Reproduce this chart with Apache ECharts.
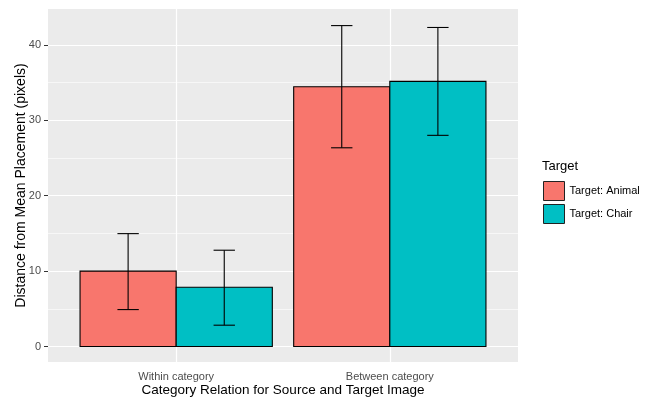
<!DOCTYPE html>
<html><head><meta charset="utf-8">
<script src="https://cdn.jsdelivr.net/npm/echarts@6/dist/echarts.min.js"></script>
<style>html,body{margin:0;padding:0;background:#fff}#c{width:650px;height:398px}</style>
</head><body><div id="c"></div>
<script>
var categories = ['Within category', 'Between category'];
var seriesNames = ['Target: Animal', 'Target: Chair'];
var animalMean = [10.0, 34.45];
var animalLo = [4.9, 26.35];
var animalHi = [14.97, 42.55];
var chairMean = [7.87, 35.15];
var chairLo = [2.83, 28.0];
var chairHi = [12.77, 42.3];
var yTicks = [0, 10, 20, 30, 40];
var yMinor = [5, 15, 25, 35];
var colors = ['#F8766D', '#00BFC4'];

var FONT = 'Liberation Sans, Arial, sans-serif';
var dodge = 0.225, half = 0.225, cap = 0.05;

function build(mean, lo, hi) {
  return mean.map(function (m, i) { return [i + 1, m, lo[i], hi[i]]; });
}
function makeRender(offset) {
  return function (params, api) {
    var x = api.value(0) + offset;
    var y = api.value(1);
    var p0 = api.coord([x - half, y]);
    var p1 = api.coord([x + half, 0]);
    var top = api.coord([x, api.value(3)]);
    var bot = api.coord([x, api.value(2)]);
    var cl = api.coord([x - cap, 0])[0];
    var cr = api.coord([x + cap, 0])[0];
    var ls = { stroke: '#000', lineWidth: 1.1 };
    return {
      type: 'group',
      children: [
        { type: 'rect', shape: { x: p0[0], y: p0[1], width: p1[0] - p0[0], height: p1[1] - p0[1] },
          style: { fill: api.visual('color'), stroke: '#000', lineWidth: 1.1 } },
        { type: 'line', shape: { x1: top[0], y1: top[1], x2: bot[0], y2: bot[1] }, style: ls },
        { type: 'line', shape: { x1: cl, y1: top[1], x2: cr, y2: top[1] }, style: ls },
        { type: 'line', shape: { x1: cl, y1: bot[1], x2: cr, y2: bot[1] }, style: ls }
      ]
    };
  };
}

var gridLines = [];
yMinor.forEach(function (v) { gridLines.push({ yAxis: v, lineStyle: { width: 0.6 } }); });
yTicks.forEach(function (v) { gridLines.push({ yAxis: v, lineStyle: { width: 1.2 } }); });
[1, 2].forEach(function (v) { gridLines.push({ xAxis: v, lineStyle: { width: 1.2 } }); });

var chart = echarts.init(document.getElementById('c'), null, { renderer: 'canvas' });
chart.setOption({
  animation: false,
  textStyle: { fontFamily: FONT },
  title: [{
    text: 'Target', left: 537, top: 155,
    textStyle: { fontFamily: FONT, fontSize: 13, fontWeight: 'normal', color: '#000' }
  }],
  legend: {
    orient: 'vertical', left: 538, top: 176,
    itemWidth: 21, itemHeight: 19, itemGap: 3, icon: 'rect',
    itemStyle: { borderColor: '#222', borderWidth: 1 },
    textStyle: { fontFamily: FONT, fontSize: 11, color: '#000' },
    data: seriesNames
  },
  grid: { left: 48, top: 9, width: 470, height: 353, show: true, backgroundColor: '#EBEBEB', borderWidth: 0,
    outerBoundsMode: 'none', containLabel: false },
  xAxis: {
    type: 'value', min: 0.4, max: 2.6,
    name: 'Category Relation for Source and Target Image', nameLocation: 'middle', nameGap: 21,
    nameMoveOverlap: false,
    nameTextStyle: { fontFamily: FONT, fontSize: 13.5, color: '#000', verticalAlign: 'top' },
    axisLine: { show: false },
    axisTick: { show: true, customValues: [1, 2], length: 4, lineStyle: { color: '#333' } },
    axisLabel: { customValues: [1, 2], margin: 9, fontFamily: FONT, fontSize: 11, color: '#4D4D4D',
      formatter: function (v) { return categories[Math.round(v) - 1]; } },
    splitLine: { show: false }
  },
  yAxis: {
    type: 'value', min: -2.05, max: 44.75,
    name: 'Distance from Mean Placement (pixels)', nameLocation: 'middle', nameGap: 20,
    nameMoveOverlap: false,
    nameTextStyle: { fontFamily: FONT, fontSize: 14, color: '#000' },
    axisLine: { show: false },
    axisTick: { show: true, customValues: yTicks, length: 4, lineStyle: { color: '#333' } },
    axisLabel: { customValues: yTicks, margin: 7, fontFamily: FONT, fontSize: 11, color: '#4D4D4D' },
    splitLine: { show: false }
  },
  series: [
    { type: 'line', data: [], silent: true, z: 1,
      markLine: { silent: true, symbol: 'none', z: 1, label: { show: false },
        lineStyle: { color: '#FFFFFF', type: 'solid' }, data: gridLines } },
    { type: 'custom', name: seriesNames[0], z: 3, itemStyle: { color: colors[0], borderColor: '#000' },
      renderItem: makeRender(-dodge), data: build(animalMean, animalLo, animalHi), encode: { x: 0, y: 1 } },
    { type: 'custom', name: seriesNames[1], z: 3, itemStyle: { color: colors[1], borderColor: '#000' },
      renderItem: makeRender(dodge), data: build(chairMean, chairLo, chairHi), encode: { x: 0, y: 1 } }
  ]
});
</script></body></html>
